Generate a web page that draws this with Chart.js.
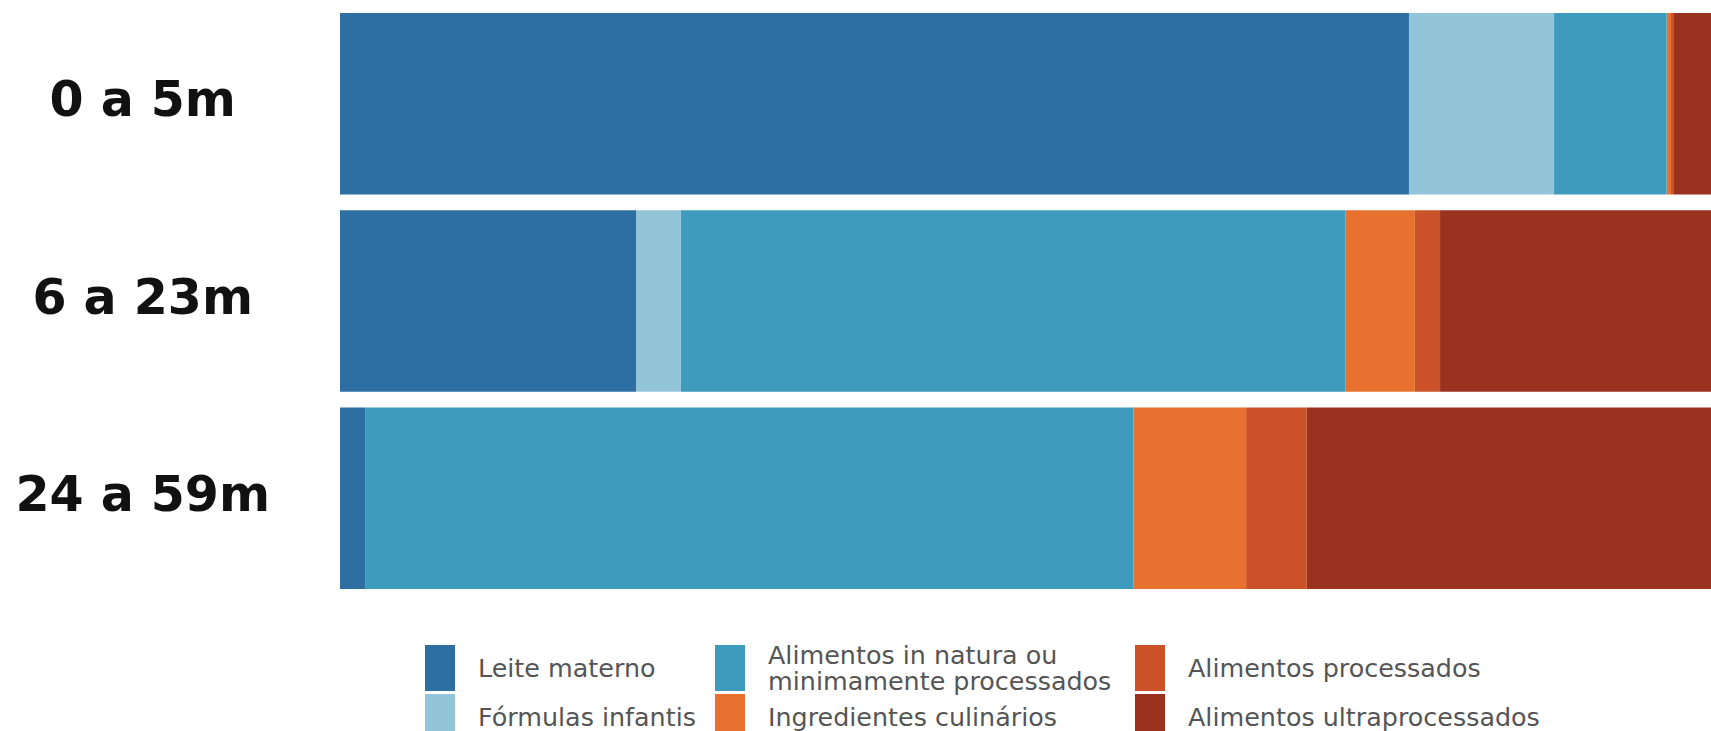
<!DOCTYPE html>
<html lang="pt-BR">
<head>
<meta charset="utf-8">
<title>Consumo alimentar por faixa etária</title>
<script src="https://cdn.jsdelivr.net/npm/chart.js@4.4.1/dist/chart.umd.min.js"></script>
<style>
  html, body { margin: 0; padding: 0; background: #ffffff; overflow: hidden; }
  #wrap { position: relative; width: 1711px; height: 731px; }
  #grafico { position: absolute; left: 0; top: 0; width: 1711px; height: 606px; }
  #legenda {
    position: absolute; left: 425px; top: 645px;
    display: grid; grid-auto-flow: column;
    grid-template-rows: 46px 46px; row-gap: 3px;
    grid-template-columns: 290px 420px 420px;
    font-family: "DejaVu Sans", sans-serif; font-size: 25.4px; color: #555;
  }
  .item { display: flex; align-items: center; }
  .cor { width: 30px; height: 46px; margin-right: 23px; flex: none; }
  .txt { line-height: 26px; white-space: nowrap; }
</style>
</head>
<body>
<div id="wrap">
  <div id="grafico"><canvas id="barras"></canvas></div>
  <div id="legenda"></div>
</div>
<script>
// faixas etárias e participação (%) de cada grupo
const categorias = ['0 a 5m', '6 a 23m', '24 a 59m'];
const leiteMaterno = [72.2, 20.0, 1.7];
const formulasInfantis = [9.8, 3.0, 0];
const inNatura = [7.6, 44.9, 51.9];
const ingredientes = [0.3, 4.7, 7.6];
const processados = [0.2, 1.7, 4.1];
const ultraprocessados = [9.9, 25.7, 34.7];

const nomes = [
    ['Leite materno'],
    ['Fórmulas infantis'],
    ['Alimentos in natura ou', 'minimamente processados'],
    ['Ingredientes culinários'],
    ['Alimentos processados'],
    ['Alimentos ultraprocessados']
];
const cores = ['#2d6fa3', '#93c5d9', '#3e9bbd', '#e8712f', '#cb5229', '#9b311f'];
const series = [leiteMaterno, formulasInfantis, inNatura, ingredientes, processados, ultraprocessados];

const ctx = document.getElementById('barras').getContext('2d');

let grafico = new Chart(ctx, {
    type: 'bar',
    data: {
        labels: categorias,
        datasets: series.map((s, i) => ({
            label: nomes[i].join(' '),
            data: s,
            backgroundColor: cores[i],
            borderWidth: 0,
            barPercentage: 0.92,
            categoryPercentage: 1
        }))
    },
    options: {
        indexAxis: 'y',
        responsive: true,
        maintainAspectRatio: false,
        animation: false,
        layout: { padding: { top: 5, bottom: 9, left: 0, right: 0 } },
        plugins: {
            legend: { display: false },
            tooltip: { enabled: false }
        },
        scales: {
            x: {
                stacked: true,
                display: false,
                min: 0,
                max: 92.6
            },
            y: {
                stacked: true,
                grid: { display: false },
                border: { display: false },
                afterFit: function(scale) {
                    scale.width = 340;
                    // sin esto el padding de los ticks se suma arriba y abajo
                    scale.paddingTop = 0;
                    scale.paddingBottom = 0;
                },
                ticks: {
                    crossAlign: 'center',
                    padding: 62,
                    color: '#111',
                    font: { family: 'DejaVu Sans', size: 49, weight: 'bold' }
                }
            }
        }
    }
});

// leyenda en 3 columnas, armada con los datasets del gráfico
const legenda = document.getElementById('legenda');
grafico.data.datasets.forEach((ds, i) => {
    const item = document.createElement('div');
    item.className = 'item';
    const cor = document.createElement('span');
    cor.className = 'cor';
    cor.style.background = ds.backgroundColor;
    const txt = document.createElement('span');
    txt.className = 'txt';
    txt.innerHTML = nomes[i].join('<br>');
    item.appendChild(cor);
    item.appendChild(txt);
    legenda.appendChild(item);
});
</script>
</body>
</html>
